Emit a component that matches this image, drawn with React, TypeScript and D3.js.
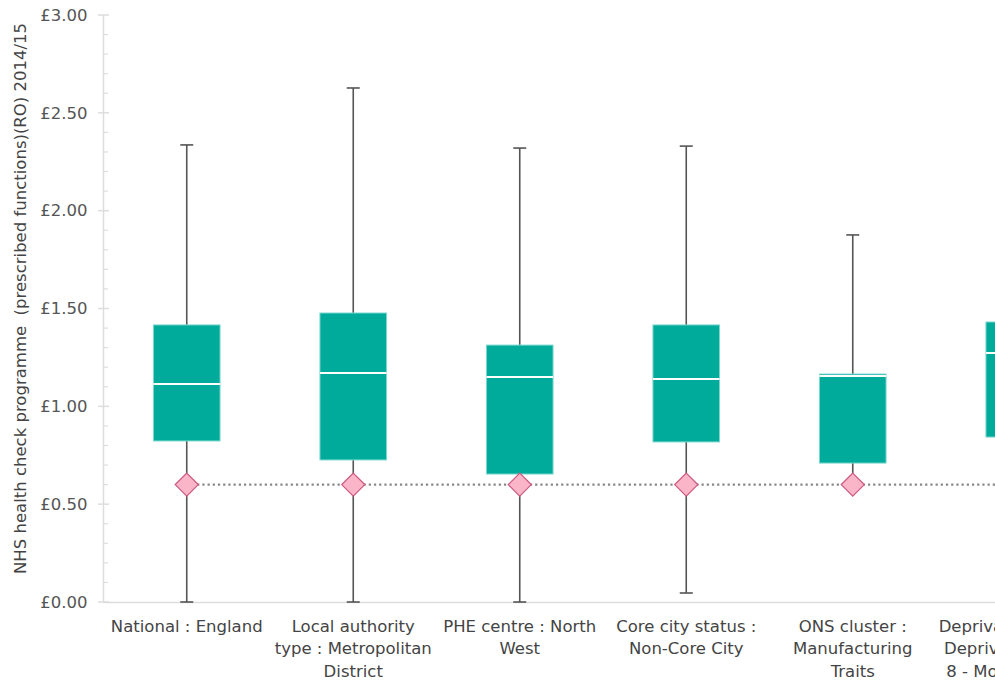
import React from "react";
import * as d3 from "d3";

const categoryLines: string[][] = [
  ["National : England"],
  ["Local authority", "type : Metropolitan", "District"],
  ["PHE centre : North", "West"],
  ["Core city status :", "Non-Core City"],
  ["ONS cluster :", "Manufacturing", "Traits"],
  ["Deprivation decile :", "Deprivation decile", "8 - More deprived"],
];
const categories = categoryLines.map((l) => l.join(" "));
const lowerWhisker = [0.0, 0.0, 0.0, 0.046, 0.62, 0.0];
const q1 = [0.823, 0.726, 0.654, 0.818, 0.71, 0.843];
const medians = [1.114, 1.17, 1.15, 1.14, 1.155, 1.273];
const q3 = [1.416, 1.477, 1.313, 1.416, 1.165, 1.431];
const upperWhisker = [2.336, 2.627, 2.32, 2.33, 1.876, 2.3];
const localValue = [0.6, 0.6, 0.6, 0.6, 0.6, 0.6];
const majorTicks = [0, 0.5, 1, 1.5, 2, 2.5, 3];
const yTitle = "NHS health check programme  (prescribed functions)(RO) 2014/15";

const W = 995;
const H = 683;
const FONT = "'DejaVu Sans', sans-serif";

export default function App() {
  const x = d3.scaleBand<string>().domain(categories).range([103.5, 1102.5]).padding(0);
  const y = d3.scaleLinear().domain([0, 3]).range([602, 15]);
  const bw = x.bandwidth() * 0.4;
  const cx = (i: number) => (x(categories[i]) as number) + x.bandwidth() / 2;
  const minorTicks = d3.range(0, 3.0001, 0.1).filter((v) => Math.abs(v * 2 - Math.round(v * 2)) > 1e-6);
  const fmt = (v: number) => "£" + d3.format(".2f")(v);
  const dy = y(localValue[0]);
  const diamond = (cxv: number, cyv: number) => {
    const r = 11.5;
    return `M${cxv},${cyv - r}L${cxv + r},${cyv}L${cxv},${cyv + r}L${cxv - r},${cyv}Z`;
  };

  return (
    <svg width={W} height={H} style={{ position: "absolute", left: 0, top: 0, background: "#fff" }} fontFamily={FONT}>
      {/* y axis */}
      <line x1={103.5} x2={103.5} y1={y(3)} y2={y(0)} stroke="#ddd" strokeWidth={1.5} />
      {majorTicks.map((t) => (
        <g key={"M" + t}>
          <line x1={98} x2={109} y1={y(t)} y2={y(t)} stroke="#ddd" strokeWidth={1.5} />
          <text x={87.5} y={y(t)} dy="0.35em" textAnchor="end" fontSize={16.5} fill="#555">
            {fmt(t)}
          </text>
        </g>
      ))}
      {minorTicks.map((t) => (
        <line key={"m" + t} x1={103.5} x2={108} y1={y(t)} y2={y(t)} stroke="#ddd" strokeWidth={1.2} />
      ))}
      {/* x axis */}
      <line x1={103.5} x2={W} y1={y(0) + 0.5} y2={y(0) + 0.5} stroke="#ddd" strokeWidth={1.5} />
      <text
        transform={`translate(20,${(22 + 575) / 2}) rotate(-90)`}
        textAnchor="middle"
        dy="0.35em"
        fontSize={16.5}
        fill="#444"
        style={{ whiteSpace: "pre" }}
      >
        {yTitle}
      </text>
      {/* whiskers */}
      {categories.map((c, i) => (
        <g key={"w" + i} stroke="#555" strokeWidth={1.6}>
          <line x1={cx(i)} x2={cx(i)} y1={y(upperWhisker[i])} y2={y(lowerWhisker[i])} />
          <line x1={cx(i) - 6.5} x2={cx(i) + 6.5} y1={y(upperWhisker[i])} y2={y(upperWhisker[i])} />
          <line x1={cx(i) - 6.5} x2={cx(i) + 6.5} y1={y(lowerWhisker[i])} y2={y(lowerWhisker[i])} />
        </g>
      ))}
      {/* boxes */}
      {categories.map((c, i) => (
        <g key={"b" + i}>
          <rect
            x={cx(i) - bw / 2}
            y={y(q3[i])}
            width={bw}
            height={y(q1[i]) - y(q3[i])}
            fill="#00ab9b"
            stroke="#7dd8cf"
            strokeWidth={1}
          />
          <line x1={cx(i) - bw / 2} x2={cx(i) + bw / 2} y1={y(medians[i])} y2={y(medians[i])} stroke="#fff" strokeWidth={2} />
        </g>
      ))}
      {/* comparator line */}
      <line x1={cx(0)} x2={W} y1={dy} y2={dy} stroke="#888" strokeWidth={2.2} strokeDasharray="2.2,3" />
      {categories.map((c, i) => (
        <path key={"d" + i} d={diamond(cx(i), y(localValue[i]))} fill="#fbb5c9" stroke="#cc5a80" strokeWidth={1.3} />
      ))}
      {/* category labels */}
      {categoryLines.map((lines, i) => (
        <text key={"c" + i} x={cx(i)} y={626} textAnchor="middle" fontSize={16.5} fill="#444" dy="0.35em">
          {lines.map((l, j) => (
            <tspan key={j} x={cx(i)} dy={j === 0 ? "0.35em" : 22.5}>
              {l}
            </tspan>
          ))}
        </text>
      ))}
    </svg>
  );
}
